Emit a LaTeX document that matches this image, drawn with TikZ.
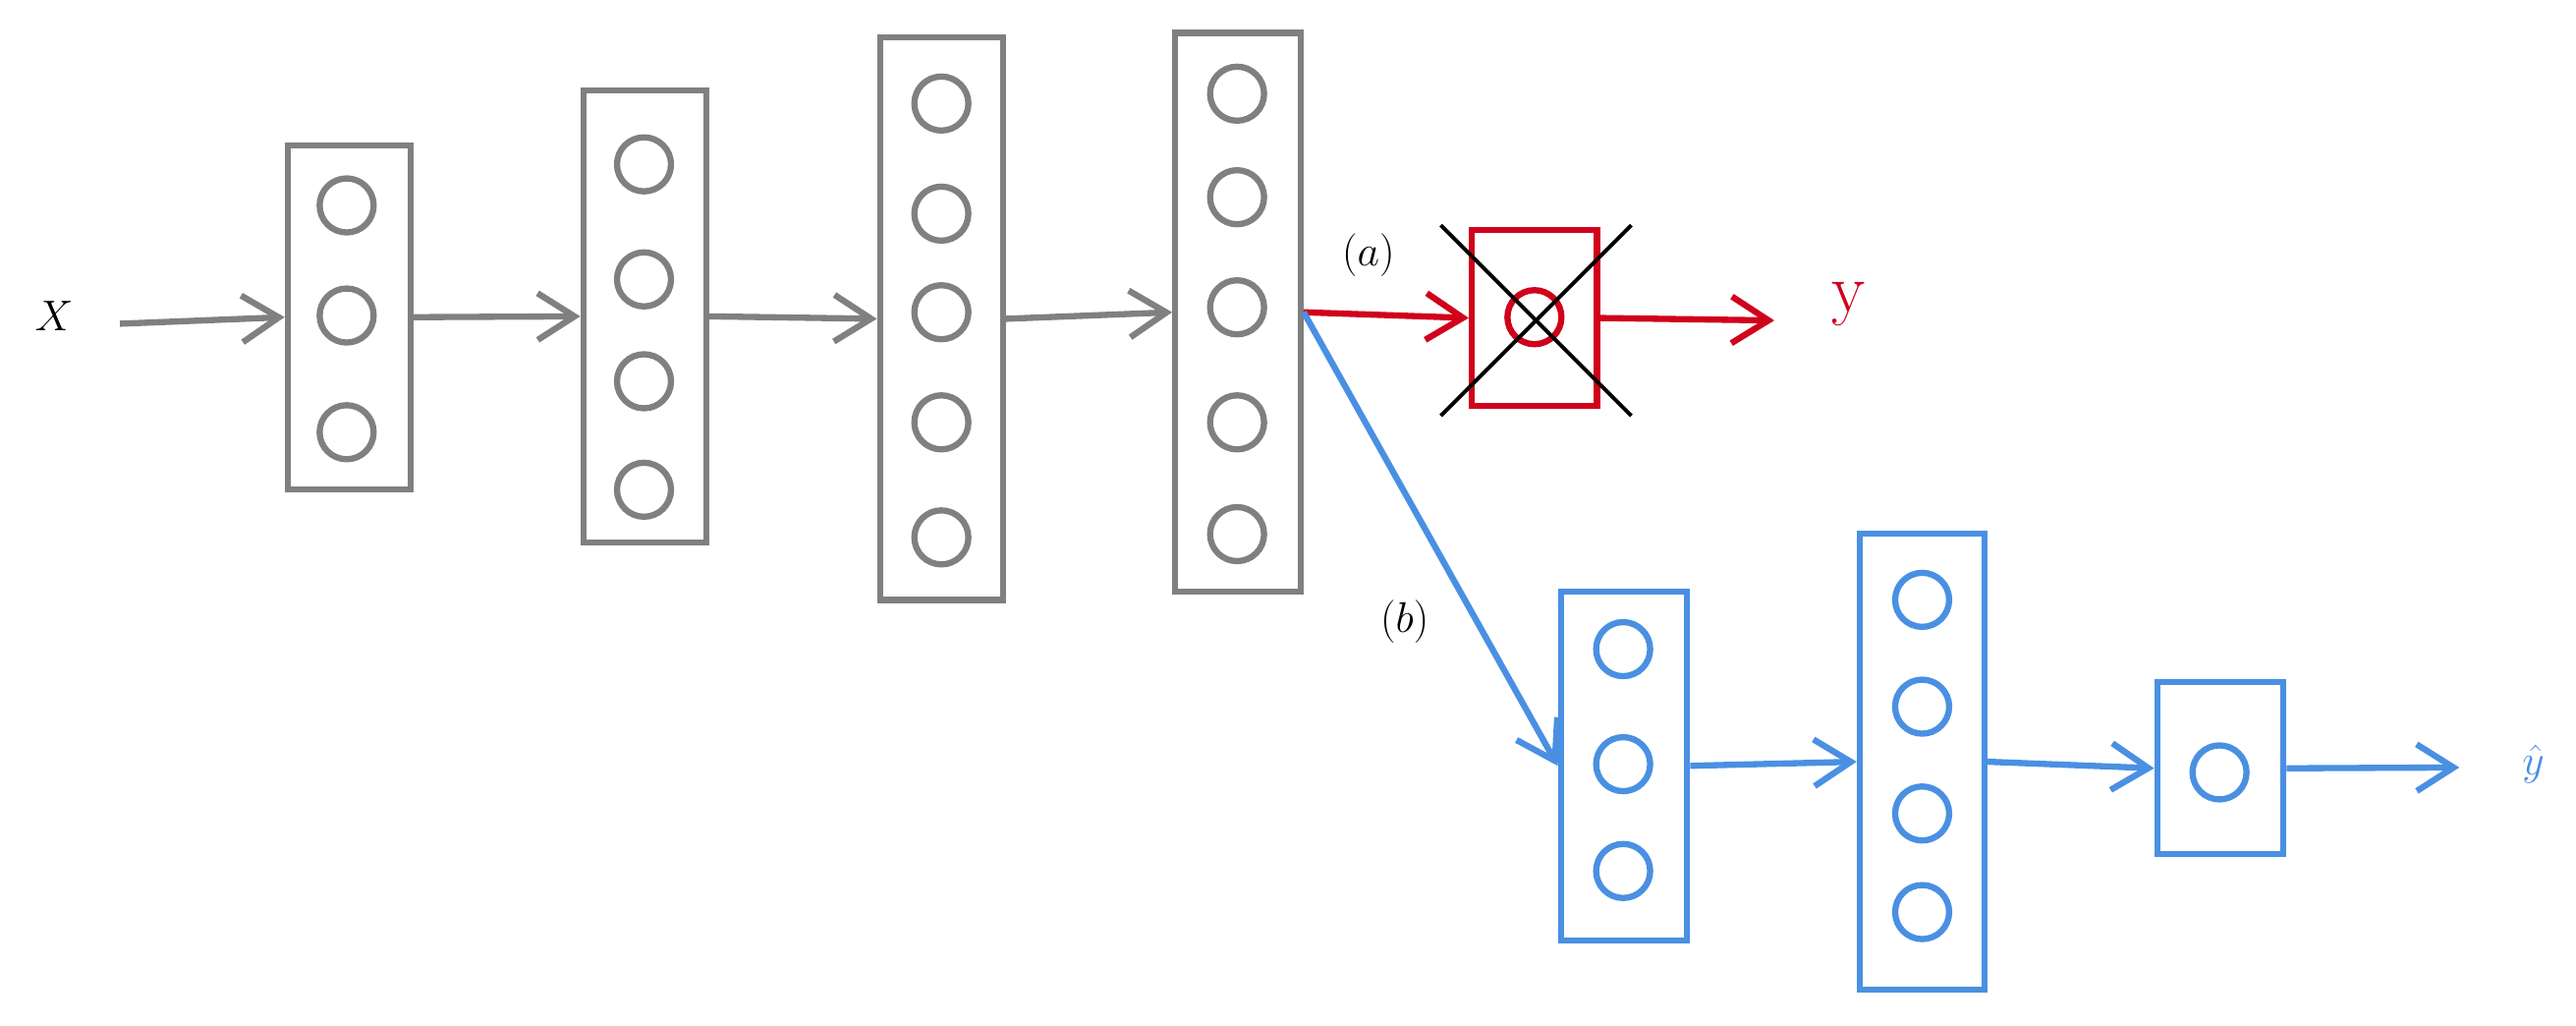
\documentclass[tikz,border=0pt]{standalone}
\usetikzlibrary{arrows.meta}
\definecolor{g}{RGB}{128,128,128}
\definecolor{r}{RGB}{208,2,27}
\definecolor{b}{RGB}{74,144,226}
\begin{document}
\begin{tikzpicture}[x=0.03344cm,y=-0.03344cm,
  box/.style={draw,line width=3.6pt,inner sep=0pt},
  neu/.style={draw,circle,line width=3.6pt,minimum size=1.1cm,inner sep=0pt},
  ar/.style={line width=3.6pt,-{Straight Barb[length=0.75cm,width=0.95cm,line width=3.6pt]}},
  lbl/.style={font=\fontsize{40}{48}\selectfont}]
\useasboundingbox (0,0) rectangle (1568,624);
% gray boxes
\begin{scope}[g]
\node[box,minimum width=2.5cm,minimum height=7.0cm] (b1) at (212.5,193) {};
\node[box,minimum width=2.5cm,minimum height=9.2cm] (b2) at (392.5,192.5) {};
\node[box,minimum width=2.5cm,minimum height=11.45cm] (b3) at (573,194) {};
\node[box,minimum width=2.55cm,minimum height=11.37cm] (b4) at (753.5,190) {};
\foreach \y [count=\i] in {125,192,263} \node[neu] (n1\i) at (211,\y) {};
\foreach \y [count=\i] in {100,170,232,298} \node[neu] (n2\i) at (392,\y) {};
\foreach \y [count=\i] in {63,130,190,257,327} \node[neu] (n3\i) at (573,\y) {};
\foreach \y [count=\i] in {57,120,187,257,325} \node[neu] (n4\i) at (753,\y) {};
\end{scope}
\node[lbl,text=black] (X) at (33,192) {$X$};
\coordinate (xs) at (73,197);
\draw[ar,g] (xs) -- (b1.west);
\draw[ar,g] (b1.east) -- (b2.west);
\draw[ar,g] (b2.east) -- (b3.west);
\draw[ar,g] (b3.east) -- (b4.west);
% red
\node[box,r,minimum width=2.55cm,minimum height=3.58cm] (rb) at (934,193.5) {};
\node[neu,r] (rn) at (934,193) {};
\coordinate (c1) at (877,137); \coordinate (c2) at (993,253);
\coordinate (c3) at (993,137); \coordinate (c4) at (877,253);
\draw[line width=2.2pt] (c1) -- (c2);
\draw[line width=2.2pt] (c3) -- (c4);
\draw[ar,r] (b4.east) -- (rb.west);
\coordinate (ye) at (1080,195);
\draw[ar,r] (rb.east) -- (ye);
\node[lbl,text=r] (y) at (1125,185) {y};
\node[lbl] (la) at (833,155) {$(a)$};
% blue
\begin{scope}[b]
\node[box,minimum width=2.57cm,minimum height=7.1cm] (c1b) at (988.5,466) {};
\node[box,minimum width=2.54cm,minimum height=9.28cm] (c2b) at (1170,463.5) {};
\node[box,minimum width=2.57cm,minimum height=3.5cm] (c3b) at (1351.5,467.5) {};
\foreach \y [count=\i] in {395,465,530} \node[neu] (m1\i) at (988,\y) {};
\foreach \y [count=\i] in {365,430,495,555} \node[neu] (m2\i) at (1170,\y) {};
\node[neu] (m31) at (1351,470) {};
\end{scope}
\draw[ar,b] (b4.east) -- (c1b.west);
\draw[ar,b] (c1b.east) -- (c2b.west);
\draw[ar,b] (c2b.east) -- (c3b.west);
\coordinate (ze) at (1497,467);
\draw[ar,b] (c3b.east) -- (ze);
\node[lbl,text=b] (yh) at (1542,465) {$\hat{y}$};
\node[lbl] (lb) at (855,378) {$(b)$};
\end{tikzpicture}
\end{document}
